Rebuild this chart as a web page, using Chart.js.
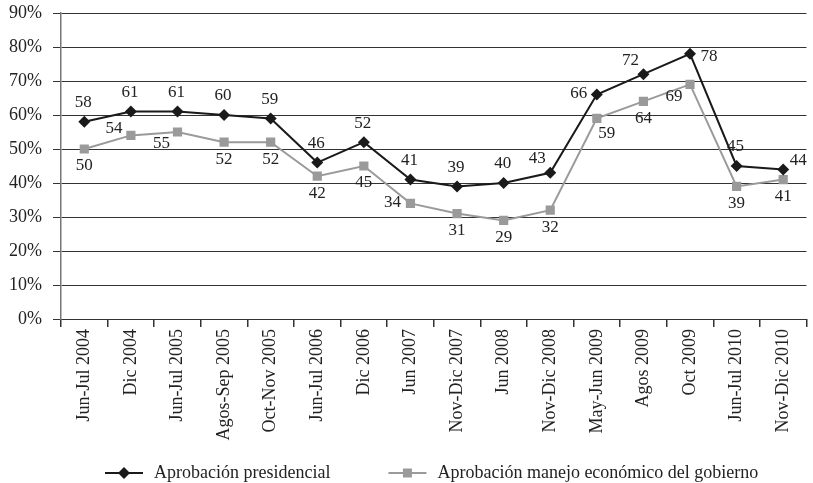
<!DOCTYPE html>
<html>
<head>
<meta charset="utf-8">
<script src="https://cdn.jsdelivr.net/npm/chart.js@4/dist/chart.umd.min.js"></script>
<style>
  html, body { margin: 0; padding: 0; background: #fff; }
  #contenedor { width: 813px; height: 483px; }
</style>
</head>
<body>
<div id="contenedor"><canvas id="grafico"></canvas></div>
<script>
// ===============================
// DATOS
// ===============================
const periodos = [
  "Jun-Jul 2004", "Dic 2004", "Jun-Jul 2005", "Agos-Sep 2005", "Oct-Nov 2005",
  "Jun-Jul 2006", "Dic 2006", "Jun 2007", "Nov-Dic 2007", "Jun 2008",
  "Nov-Dic 2008", "May-Jun 2009", "Agos 2009", "Oct 2009", "Jun-Jul 2010", "Nov-Dic 2010"
];
const aprobacionPresidencial = [58, 61, 61, 60, 59, 46, 52, 41, 39, 40, 43, 66, 72, 78, 45, 44];
const aprobacionEconomica = [50, 54, 55, 52, 52, 42, 45, 34, 31, 29, 32, 59, 64, 69, 39, 41];
const ticksY = [0, 10, 20, 30, 40, 50, 60, 70, 80, 90];

// donde va cada etiqueta respecto a su punto
const anclasPresidencial = ["arriba", "arriba", "arriba", "arriba", "arriba", "arriba", "arriba", "arriba",
  "arriba", "arriba", "arribaIzq", "izq", "arribaIzq", "der", "arriba", "derArriba"];
const anclasEconomica = ["abajo", "izqArriba", "abajoIzq", "abajo", "abajo", "abajo", "abajo", "izq",
  "abajo", "abajo", "abajo", "abajoDer", "abajo", "abajoIzq", "abajo", "abajo"];

const desplazamientos = {
  arriba: [-1, -19], abajo: [0, 17], izq: [-18, -1], der: [19, 3],
  arribaIzq: [-13, -14], izqArriba: [-17, -7], abajoIzq: [-16, 12],
  abajoDer: [10, 15], derArriba: [15, -9]
};

const fuente = '"Liberation Serif", "Times New Roman", serif';

// ===============================
// PLUGINS
// ===============================
const etiquetasDatos = {
  id: "etiquetasDatos",
  afterDatasetsDraw(chart) {
    const ctx = chart.ctx;
    ctx.save();
    ctx.font = "17px " + fuente;
    ctx.fillStyle = "#222";
    ctx.textAlign = "center";
    ctx.textBaseline = "middle";
    chart.data.datasets.forEach((ds, i) => {
      const meta = chart.getDatasetMeta(i);
      meta.data.forEach((pt, j) => {
        const d = desplazamientos[ds.anclas[j]];
        ctx.fillText(ds.data[j], pt.x + d[0], pt.y + d[1]);
      });
    });
    ctx.restore();
  }
};

function marcador(ctx, estilo, x, y, color) {
  ctx.fillStyle = color;
  ctx.beginPath();
  if (estilo === "rectRot") {
    ctx.moveTo(x - 6, y); ctx.lineTo(x, y - 6); ctx.lineTo(x + 6, y); ctx.lineTo(x, y + 6);
  } else {
    ctx.rect(x - 4.5, y - 4.5, 9, 9);
  }
  ctx.closePath();
  ctx.fill();
}

const leyenda = {
  id: "leyenda",
  afterDraw(chart) {
    const ctx = chart.ctx;
    ctx.save();
    ctx.font = "18px " + fuente;
    ctx.textBaseline = "middle";
    ctx.textAlign = "left";
    const y = 473;
    let x = 105;
    chart.data.datasets.forEach(ds => {
      ctx.strokeStyle = ds.borderColor;
      ctx.lineWidth = 2;
      ctx.beginPath();
      ctx.moveTo(x, y);
      ctx.lineTo(x + 38, y);
      ctx.stroke();
      marcador(ctx, ds.pointStyle, x + 19, y, ds.pointBackgroundColor);
      ctx.fillStyle = "#222";
      ctx.fillText(ds.label, x + 49, y);
      x += 49 + ctx.measureText(ds.label).width + 58;
    });
    ctx.restore();
  }
};

// ===============================
// GRAFICO
// ===============================
const ctx = document.getElementById("grafico").getContext("2d");
const grafico = new Chart(ctx, {
  type: "line",
  data: {
    labels: periodos,
    datasets: [
      {
        label: "Aprobación presidencial",
        data: aprobacionPresidencial,
        anclas: anclasPresidencial,
        borderColor: "#1a1a1a",
        borderWidth: 2,
        pointStyle: "rectRot",
        pointRadius: 6,
        pointBorderWidth: 0,
        pointBackgroundColor: "#1a1a1a",
        pointBorderColor: "#1a1a1a",
        tension: 0
      },
      {
        label: "Aprobación manejo económico del gobierno",
        data: aprobacionEconomica,
        anclas: anclasEconomica,
        borderColor: "#9a9a9a",
        borderWidth: 2,
        pointStyle: "rect",
        pointRadius: 6.5,
        pointBorderWidth: 0,
        pointBackgroundColor: "#9a9a9a",
        pointBorderColor: "#9a9a9a",
        tension: 0
      }
    ]
  },
  options: {
    responsive: true,
    maintainAspectRatio: false,
    animation: false,
    layout: { padding: { top: 13, right: 2, bottom: 40, left: 0 } },
    plugins: {
      legend: { display: false },
      tooltip: { enabled: false }
    },
    scales: {
      x: {
        offset: true,
        grid: { offset: true, drawOnChartArea: false, tickLength: 8, color: "#333", lineWidth: 1.5 },
        border: { color: "#333", width: 1 },
        ticks: {
          minRotation: 90, maxRotation: 90, autoSkip: false, padding: 2,
          color: "#222", font: { family: fuente, size: 18 }
        },
        afterFit(scale) { scale.height = 124; }
      },
      y: {
        min: 0,
        max: 90,
        afterBuildTicks(scale) { scale.ticks = ticksY.map(v => ({ value: v })); },
        grid: { color: "#333", lineWidth: 1, tickLength: 8 },
        border: { color: "#777", width: 1.5 },
        ticks: {
          padding: 11, color: "#222",
          font: { family: fuente, size: 18 },
          callback: v => v + "%"
        },
        afterFit(scale) {
          scale.width = 61;
          scale.paddingTop = 0;
          scale.paddingBottom = 0;
        }
      }
    }
  },
  plugins: [etiquetasDatos, leyenda]
});
</script>
</body>
</html>
